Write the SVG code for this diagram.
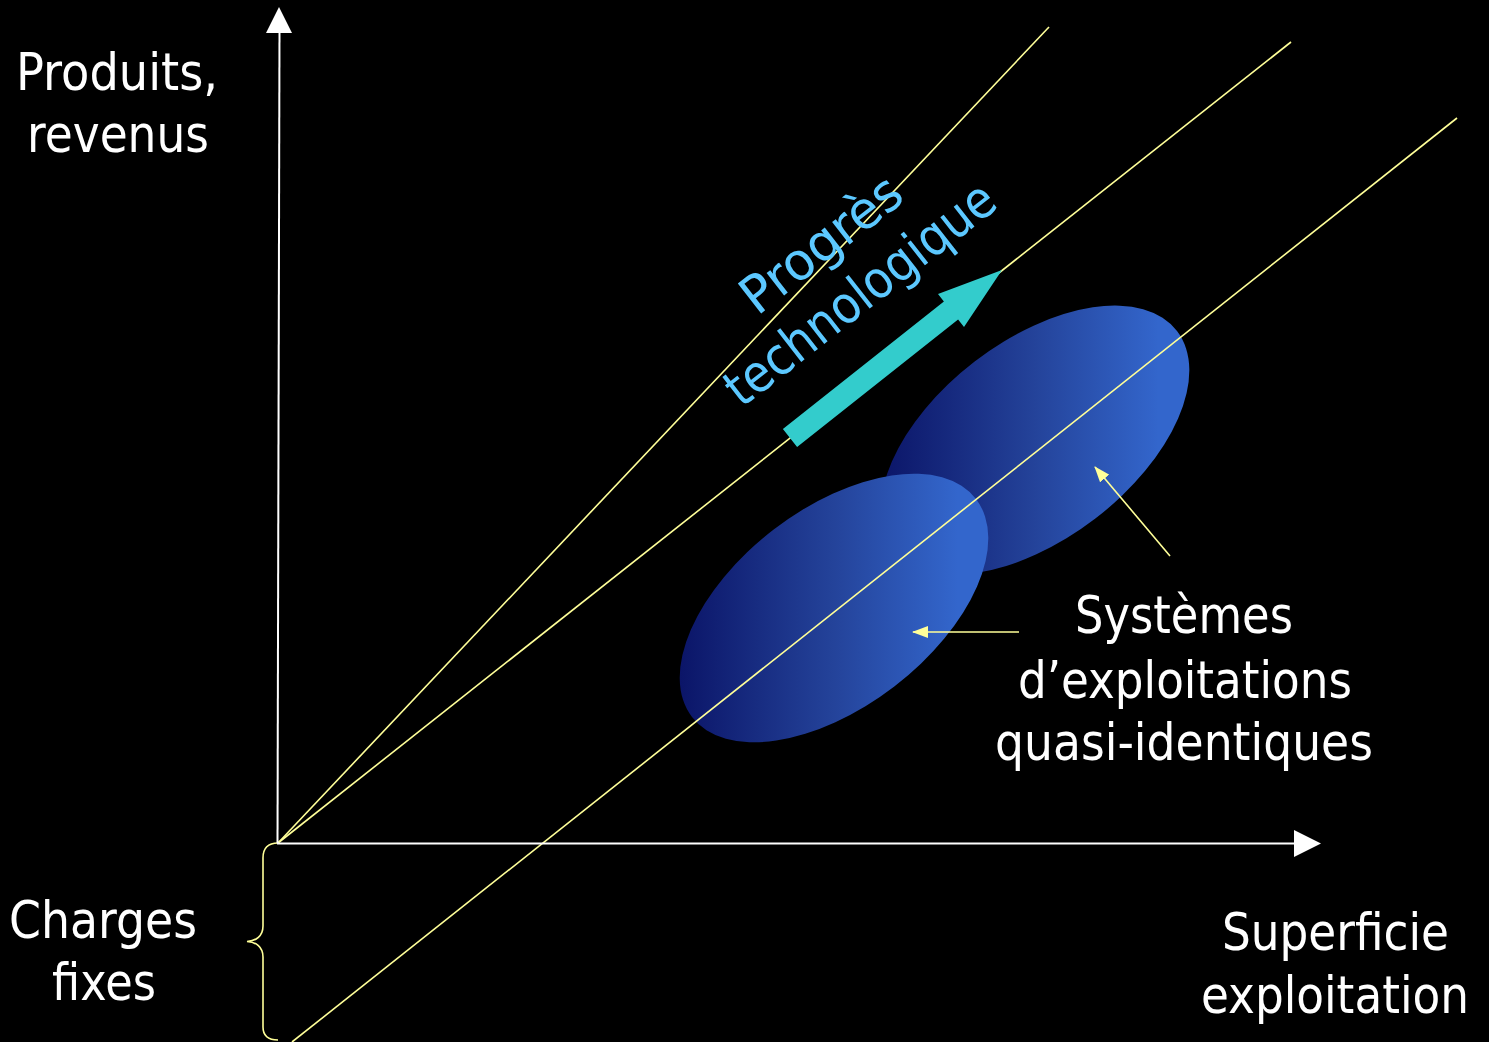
<svg xmlns="http://www.w3.org/2000/svg" width="1489" height="1042" viewBox="0 0 1489 1042">
<style>
.lbl{font-family:"DejaVu Sans","Liberation Sans",sans-serif;font-size:52px;fill:#ffffff}
.blue{fill:#5cc8ff}
.yl{stroke:#ffff99;stroke-width:1.6;fill:none}
.ax{stroke:#ffffff;stroke-width:2;fill:none}
</style>
<defs>
<linearGradient id="eg" x1="0" y1="0" x2="1" y2="0">
<stop offset="0" stop-color="#0b1568"/>
<stop offset="0.5" stop-color="#24439a"/>
<stop offset="0.9" stop-color="#3366cc"/>
<stop offset="1" stop-color="#3366cc"/>
</linearGradient>
<marker id="ya" viewBox="0 0 16 12" refX="15" refY="6" markerWidth="16" markerHeight="12" markerUnits="userSpaceOnUse" orient="auto">
<path d="M0,0 L16,6 L0,12 Z" fill="#ffff99"/>
</marker>
</defs>
<rect x="0" y="0" width="1489" height="1042" fill="#000000"/>

<g id="ellipse-1">
<path d="M893,549 A179,99 -37.5 1 0 1177,331 A179,99 -37.5 1 0 893,549 Z" fill="url(#eg)"/>
</g>
<g id="ellipse-2">
<path d="M692,717 A179,99 -37.5 1 0 976,499 A179,99 -37.5 1 0 692,717 Z" fill="url(#eg)"/>
</g>

<g id="connectors">
<line class="yl" x1="278" y1="843" x2="1049" y2="27"/>
<line class="yl" x1="278" y1="843" x2="1291" y2="42"/>
<line class="yl" x1="292" y1="1042" x2="1457" y2="118"/>
<line class="yl" x1="1170" y1="556" x2="1095" y2="467" marker-end="url(#ya)"/>
<line class="yl" x1="1019" y1="632" x2="913" y2="632" marker-end="url(#ya)"/>
<path class="yl" stroke-width="2" d="M278,843 C268,843 263,848 263,858 L263,926 C263,936 256,941 247,941.5 C256,942 263,947 263,957 L263,1027 C263,1036 268,1040 278,1040"/>
</g>

<g id="axes">
<line class="ax" x1="277.5" y1="843" x2="279.5" y2="30"/>
<path d="M279,7 L292,33 L266,33 Z" fill="#ffffff"/>
<line class="ax" x1="277" y1="843.5" x2="1296" y2="843.5"/>
<path d="M1321,843.5 L1294,857 L1294,830 Z" fill="#ffffff"/>
</g>

<g id="progress-arrow">
<polygon points="782.9,429 943.9,301.4 938,293.9 1002,270 964,326.9 958.1,319.4 797.1,447" fill="#33cccc"/>
</g>

<g id="label-progres">
<g transform="translate(832,258) rotate(-38)">
<text class="lbl blue" x="0" y="0" text-anchor="middle" textLength="190" lengthAdjust="spacingAndGlyphs">Progrès</text>
<text class="lbl blue" x="0" y="63" text-anchor="middle" textLength="328" lengthAdjust="spacingAndGlyphs">technologique</text>
</g>
</g>

<g id="label-y">
<text class="lbl" x="16" y="90" textLength="202" lengthAdjust="spacingAndGlyphs">Produits,</text>
<text class="lbl" x="27" y="152" textLength="182" lengthAdjust="spacingAndGlyphs">revenus</text>
</g>
<g id="label-charges">
<text class="lbl" x="9" y="938" textLength="188" lengthAdjust="spacingAndGlyphs">Charges</text>
<text class="lbl" x="52" y="1000" textLength="104" lengthAdjust="spacingAndGlyphs">fixes</text>
</g>
<g id="label-x">
<text class="lbl" x="1222" y="950" textLength="227" lengthAdjust="spacingAndGlyphs">Superficie</text>
<text class="lbl" x="1201" y="1013" textLength="268" lengthAdjust="spacingAndGlyphs">exploitation</text>
</g>
<g id="label-systemes">
<text class="lbl" x="1075" y="633" textLength="218" lengthAdjust="spacingAndGlyphs">Systèmes</text>
<text class="lbl" x="1018" y="698" textLength="334" lengthAdjust="spacingAndGlyphs">d’exploitations</text>
<text class="lbl" x="995" y="760" textLength="378" lengthAdjust="spacingAndGlyphs">quasi-identiques</text>
</g>
</svg>
